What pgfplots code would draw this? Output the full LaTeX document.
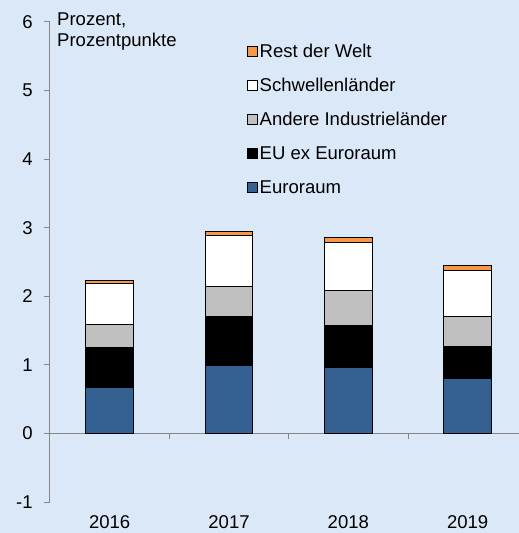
\documentclass[border=0pt]{standalone}
\usepackage{fontspec}
\setmainfont{Liberation Sans}
\usepackage{pgfplots}
\pgfplotsset{compat=1.18}
\definecolor{bg}{RGB}{219,232,247}
\definecolor{euro}{RGB}{53,96,146}
\definecolor{rest}{RGB}{247,150,70}
\definecolor{andere}{RGB}{192,192,192}
\definecolor{axgray}{RGB}{134,134,134}
\begin{document}
\fontsize{18.6}{22}\selectfont
\begin{tikzpicture}
\fill[bg] (-50bp,-31bp) rectangle (469bp,502bp);
\begin{axis}[
    at={(0,0)}, anchor=south west,
    scale only axis, width=469bp, height=480bp,
    xmin=-0.5, xmax=3.43, ymin=-1, ymax=6,
    ytick={-1,0,...,6},
    xtick={0,1,2,3}, xticklabels={2016,2017,2018,2019},
    ybar stacked, bar width=0.4,
    clip=false,
    axis y line*=left, axis x line*=bottom,
    x axis line style={draw=none},
    y axis line style={-, draw=axgray, line width=1bp},
    xtick style={draw=none},
    ytick style={draw=axgray, line width=1bp},
    tick align=outside, major tick length=6bp,
    yticklabel style={xshift=-5bp},
    xticklabel style={inner ysep=0pt, yshift=-7.5bp},
    /pgf/number format/assume math mode=true,
    every axis plot/.append style={draw=black, line width=1bp},
    reverse legend,
    legend cell align=left,
    legend image code/.code={\draw[#1] (0bp,-5bp) rectangle (10bp,5bp);},
    legend style={at={(0.419,0.952)}, anchor=north west, draw=none, fill=none,
      inner sep=0pt, row sep=21.3bp, font=\fontsize{18.6}{22}\selectfont,
      nodes={inner xsep=2bp, inner ysep=0pt, text height=12.7bp, text depth=0bp}},
]
\addplot[fill=euro] coordinates {(0,0.67) (1,0.99) (2,0.96) (3,0.80)};
\addplot[fill=black] coordinates {(0,0.58) (1,0.72) (2,0.61) (3,0.47)};
\addplot[fill=andere] coordinates {(0,0.34) (1,0.43) (2,0.52) (3,0.43)};
\addplot[fill=white] coordinates {(0,0.60) (1,0.74) (2,0.70) (3,0.68)};
\addplot[fill=rest] coordinates {(0,0.04) (1,0.06) (2,0.07) (3,0.07)};
\legend{Euroraum, EU ex Euroraum, Andere Industrieländer, Schwellenländer, Rest der Welt}
\draw[axgray, line width=1bp] (axis cs:-0.5,0) -- (axis cs:3.43,0);
\draw[axgray, line width=1bp] (axis cs:0.5,0) -- ([yshift=-6bp]axis cs:0.5,0);
\draw[axgray, line width=1bp] (axis cs:1.5,0) -- ([yshift=-6bp]axis cs:1.5,0);
\draw[axgray, line width=1bp] (axis cs:2.5,0) -- ([yshift=-6bp]axis cs:2.5,0);
\node[anchor=base west, inner sep=0pt] at ([xshift=7bp, yshift=-4bp]rel axis cs:0,1) {Prozent,};
\node[anchor=base west, inner sep=0pt] at ([xshift=7bp, yshift=-24.5bp]rel axis cs:0,1) {Prozentpunkte};
\end{axis}
\pgfresetboundingbox
\path[use as bounding box] (-50bp,-31bp) rectangle (469bp,502bp);
\end{tikzpicture}
\end{document}
